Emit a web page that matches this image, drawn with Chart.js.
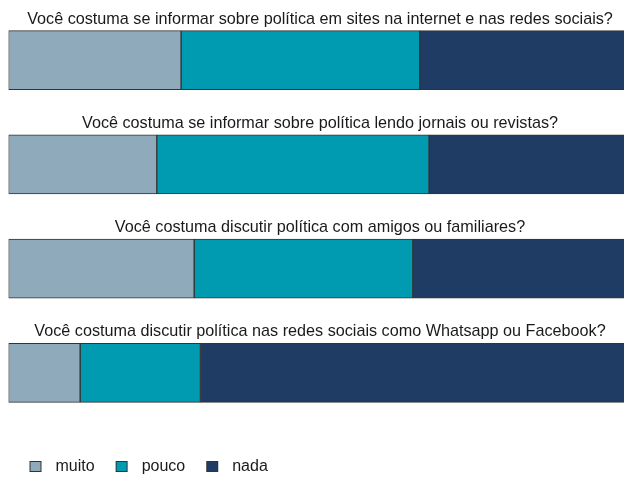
<!DOCTYPE html>
<html>
<head>
<meta charset="utf-8">
<script src="https://cdn.jsdelivr.net/npm/chart.js@4"></script>
<style>
  body { margin: 0; background: #fff; }
  #wrap { width: 624px; height: 477px; overflow: hidden; }
</style>
</head>
<body>
<div id="wrap"><canvas id="chart" width="640" height="477"></canvas></div>
<script>
// Survey answers, share of respondents (%)
const questions = [
    'Você costuma se informar sobre política em sites na internet e nas redes sociais?',
    'Você costuma se informar sobre política lendo jornais ou revistas?',
    'Você costuma discutir política com amigos ou familiares?',
    'Você costuma discutir política nas redes sociais como Whatsapp ou Facebook?'
];
const seriesNames = ['muito', 'pouco', 'nada'];
const muito = [27.7, 23.8, 29.8, 11.5];
const pouco = [38.3, 43.7, 35.1, 19.3];
const nada = [34.0, 32.5, 35.1, 69.2];

const colors = ['#8faabb', '#009bb0', '#1f3c64'];
const edge = '#333333';
const BAR = 59;
const FONT = '"Liberation Sans", Arial, sans-serif';

// legend swatch: square with some space around so the text sits where ggplot puts it
function swatch(color) {
    const c = document.createElement('canvas');
    c.width = 36; c.height = 11;
    const ctx = c.getContext('2d');
    ctx.fillStyle = color;
    ctx.strokeStyle = edge;
    ctx.lineWidth = 1;
    ctx.fillRect(18.5, 0.5, 11, 10);
    ctx.strokeRect(18.5, 0.5, 11, 10);
    return c;
}

// question text above each bar
const stripTitles = {
    id: 'stripTitles',
    afterDatasetsDraw(chart) {
        const { ctx, chartArea, scales: { y } } = chart;
        ctx.save();
        ctx.font = '16.2px ' + FONT;
        ctx.fillStyle = '#1a1a1a';
        ctx.textAlign = 'center';
        ctx.textBaseline = 'alphabetic';
        const cx = (chartArea.left + chartArea.right) / 2;
        chart.data.labels.forEach((label, i) => {
            ctx.fillText(label, cx, y.getPixelForValue(i) - BAR / 2 - 7);
        });
        ctx.restore();
    }
};

new Chart(document.getElementById('chart'), {
    type: 'bar',
    data: {
        labels: questions,
        datasets: [muito, pouco, nada].map((d, i) => ({
            label: seriesNames[i],
            data: d,
            backgroundColor: colors[i],
            borderColor: edge,
            borderWidth: 1,
            borderSkipped: false,
            barThickness: BAR
        }))
    },
    options: {
        indexAxis: 'y',
        responsive: false,
        animation: false,
        layout: { padding: { left: 8.5, right: 8.5, top: 8, bottom: -7.5 } },
        scales: {
            x: {
                stacked: true,
                min: 0,
                max: 100,
                grid: { display: false },
                border: { display: false },
                ticks: { display: false },
                afterFit: s => { s.height = 30.5; }
            },
            y: {
                stacked: true,
                display: false
            }
        },
        plugins: {
            tooltip: { enabled: false },
            legend: {
                position: 'bottom',
                align: 'start',
                labels: {
                    usePointStyle: true,
                    pointStyleWidth: 36,
                    padding: 3,
                    color: '#1a1a1a',
                    font: { size: 16, family: FONT },
                    generateLabels(chart) {
                        const items = Chart.defaults.plugins.legend.labels.generateLabels(chart);
                        items.forEach(it => { it.pointStyle = swatch(colors[it.datasetIndex]); });
                        return items;
                    }
                }
            }
        }
    },
    plugins: [stripTitles]
});
</script>
</body>
</html>
